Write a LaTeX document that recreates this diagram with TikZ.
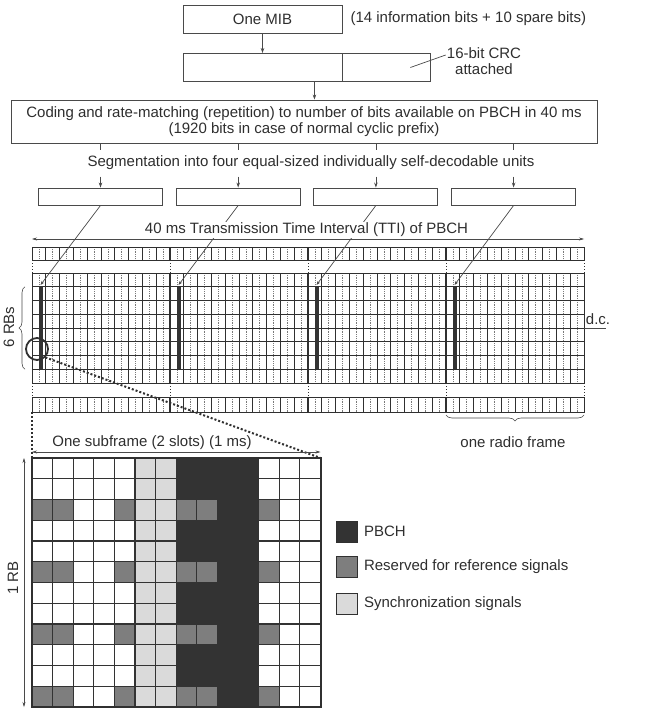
\documentclass[tikz,border=0pt]{standalone}
\usepackage{fontspec}
\setmainfont{Liberation Sans}
\usetikzlibrary{positioning,arrows.meta,decorations.pathreplacing}

\definecolor{linecol}{HTML}{4A4A4A}
\definecolor{gridcol}{HTML}{303030}
\definecolor{slotcol}{HTML}{7A7A7A}
\definecolor{txtcol}{HTML}{2E2E2E}
\definecolor{pbchcol}{HTML}{333333}
\definecolor{refcol}{HTML}{7E7E7E}
\definecolor{synccol}{HTML}{DADADA}

\begin{document}
\begin{tikzpicture}[x=1pt, y=-1pt,
  every node/.style={font=\fontsize{15}{16.5}\selectfont, text=txtcol},
  blk/.style={draw=linecol, line width=0.9pt, inner sep=0pt},
  arr/.style={-{Stealth[length=5pt,width=3.5pt]}, linecol, line width=0.7pt},
  tiparr/.style={-{Stealth[length=4pt,width=3pt]}, linecol, line width=0.7pt},
  darr/.style={{Stealth[length=5pt,width=3pt]}-{Stealth[length=5pt,width=3pt]}, linecol, line width=0.5pt},
  sfline/.style={gridcol, line width=0.9pt},
  frline/.style={gridcol, line width=1.5pt},
  slotline/.style={slotcol, densely dotted, line width=0.8pt},
  gapline/.style={gridcol, dotted, line width=1pt},
  zoomline/.style={gridcol, dotted, line width=2pt},
  cellline/.style={pbchcol, line width=1.2pt},
  bracket/.style={decorate, decoration={brace, amplitude=6pt}, linecol, line width=0.6pt},
  legbox/.style={draw=gridcol, line width=1pt, minimum size=21pt, inner sep=0pt}]
\useasboundingbox (0,0) rectangle (662,727);

% information block and CRC
\node[blk, minimum width=159pt, minimum height=28pt] (mib) at (262.5,19) {One MIB};
\node[anchor=west] (mibnote) at (347,19) {(14 information bits + 10 spare bits)};
\node[blk, minimum width=159pt, minimum height=28pt] (crcdata) at (262.5,67.5) {};
\node[blk, minimum width=88pt, minimum height=28pt, right=0pt of crcdata] (crcbits) {};
\node[align=center, inner sep=1pt] (crcnote) at (484,61) {16-bit CRC\\attached};
\draw[linecol, line width=0.7pt] ([xshift=-21pt]crcbits.east) -- ([yshift=6pt]crcnote.west);
\draw[arr] (mib) -- (crcdata);

% coding and segmentation
\node[blk, minimum width=586pt, minimum height=43pt, align=center] (coding) at (304,121.5)
  {Coding and rate-matching (repetition) to number of bits available on PBCH in 40 ms\\(1920 bits in case of normal cyclic prefix)};
\draw[arr] ([xshift=-28pt]crcdata.south east) -- ([xshift=-28pt]crcdata.south east |- coding.north);
\node (segtext) at (311,163) {Segmentation into four equal-sized individually self-decodable units};
\foreach \i in {1,...,4} {
  \node[blk, minimum width=124pt, minimum height=17pt] (seg\i) at ({100.5+(\i-1)*137.7},196.5) {};
  \draw[linecol, line width=0.7pt] (coding.south -| seg\i) -- ++(0,7);
  \draw[arr] ([yshift=11pt]seg\i.north) -- (seg\i.north);
}

% 40 ms of PBCH, four radio frames
\foreach \ya/\yb in {247/260, 273/383, 397/412} {
  \foreach \k in {0,...,39}
    \draw[slotline] ({38.9+\k*13.8},\ya) -- ({38.9+\k*13.8},\yb);
  \foreach \k in {1,...,39}
    \draw[sfline] ({32+\k*13.8},\ya) -- ({32+\k*13.8},\yb);
  \draw[sfline] (32,\ya) rectangle (584,\yb);
}
\foreach \r in {1,...,7}
  \draw[sfline] (32,{273+\r*13.75}) -- (584,{273+\r*13.75});
\foreach \fx in {170,308,446}
  \draw[frline] (\fx,247) -- (\fx,260) (\fx,273) -- (\fx,383) (\fx,397) -- (\fx,412);
\foreach \fx in {32,170,308,446,584}
  \draw[gapline] (\fx,260) -- (\fx,273) (\fx,383) -- (\fx,397);

% PBCH in each frame
\foreach \i in {1,...,4} {
  \fill[pbchcol] ({32+(\i-1)*138+6.6},286.75) rectangle ({32+(\i-1)*138+11},369.25);
  \coordinate (bar\i) at ({32+(\i-1)*138+8.5},285);
  \draw[tiparr] (seg\i.south) -- (bar\i);
}

\coordinate (ttil) at (32,239);
\coordinate (ttir) at (584,239);
\draw[darr] (ttil) -- (ttir);
\node[fill=white, inner sep=1pt] (tti) at (306.5,230) {40 ms Transmission Time Interval (TTI) of PBCH};

\draw[bracket] (25,369.25) -- (25,286.75);
\node[rotate=90] (rbs) at (9,327) {6 RBs};

\coordinate (dcl) at (584,328);
\coordinate (dcr) at (606,328);
\draw[linecol, line width=0.7pt] (dcl) -- (dcr);
\node[anchor=base, inner sep=0pt] (dc) at (598,324) {d.c.};

\draw[bracket] (584,415) -- (446,415);
\node (frame) at (513,442) {one radio frame};

% zoom into one subframe
\node[draw=gridcol, circle, line width=1.8pt, minimum size=22pt, inner sep=0pt] (zoomc) at (37,349) {};
\coordinate (sfnw) at (32,458);
\coordinate (sfne) at (320.5,458);
\coordinate (sfse) at (320.5,707);
\coordinate (sfsw) at (32,707);
\coordinate (bandsw) at (32,412);
\draw[zoomline] (zoomc.south east) -- (sfne);
\draw[zoomline] (bandsw) -- (sfnw);

\draw[darr] ([yshift=6pt]sfnw) -- ([yshift=6pt]sfne);
\node (sftext) at (152,443) {One subframe (2 slots) (1 ms)};

\fill[white] (sfnw) rectangle (sfse);
\fill[synccol] ({32+5*20.607},458) rectangle ({32+7*20.607},707);
\fill[pbchcol] ({32+7*20.607},458) rectangle ({32+11*20.607},707);
\foreach \r in {2,5,8,11}
  \foreach \c in {0,1,4,7,8,11}
    \fill[refcol] ({32+\c*20.607},{458+\r*20.75}) rectangle ++(20.607,20.75);
\foreach \c in {1,...,13}
  \draw[cellline] ({32+\c*20.607},458) -- ({32+\c*20.607},707);
\foreach \r in {1,...,11}
  \draw[cellline] (32,{458+\r*20.75}) -- (320.5,{458+\r*20.75});
\draw[gridcol, line width=2pt] (sfnw) rectangle (sfse);

\draw[darr] ([xshift=-8pt]sfnw) -- ([xshift=-8pt]sfsw);
\node[rotate=90] (rb) at (13,578) {1 RB};

% legend
\node[legbox, fill=pbchcol] (legpbch) at (346.5,531.5) {};
\node[right=3pt of legpbch] (txtpbch) {PBCH};
\node[legbox, fill=refcol] (legref) at (346.5,566.5) {};
\node[right=3pt of legref] (txtref) {Reserved for reference signals};
\node[legbox, fill=synccol] (legsync) at (346.5,603.5) {};
\node[right=3pt of legsync] (txtsync) {Synchronization signals};
\end{tikzpicture}
\end{document}
